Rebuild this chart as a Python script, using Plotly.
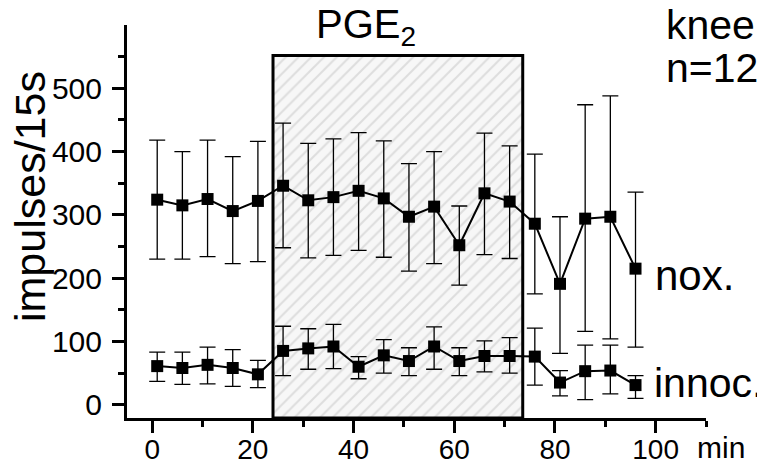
import plotly.graph_objects as go

# time points (min)
t = [1, 6, 11, 16, 21, 26, 31, 36, 41, 46, 51, 56, 61, 66, 71, 76, 81, 86, 91, 96]

# noxious stimulation: mean, upper and lower end of error bar
nox = [324, 315, 325, 306, 322, 346, 323, 328, 338, 326, 297, 313, 252, 334, 321, 286, 191, 294, 297, 215]
nox_hi = [418, 400, 418, 392, 416, 445, 413, 420, 430, 417, 381, 400, 314, 429, 409, 396, 297, 474, 488, 336]
nox_lo = [230, 230, 234, 223, 226, 248, 232, 236, 244, 233, 211, 223, 189, 237, 231, 175, 81, 116, 104, 91]

# innocuous stimulation
innoc = [61, 58, 63, 58, 48, 85, 89, 92, 60, 78, 69, 92, 69, 77, 77, 76, 35, 53, 54, 31]
innoc_hi = [83, 83, 91, 87, 70, 124, 120, 127, 76, 103, 90, 123, 90, 101, 106, 121, 54, 94, 94, 46]
innoc_lo = [37, 32, 33, 29, 27, 46, 56, 57, 41, 50, 46, 56, 46, 52, 50, 31, 14, 8, 17, 10]

# PGE2 application period
pge_start, pge_end = 24, 73.6
pge_top = 552

x_ticks = [0, 20, 40, 60, 80, 100]
y_ticks = [0, 100, 200, 300, 400, 500]

# page has an 8px body margin, so the figure is made 8px smaller and margins shifted
PAD = 8
W, H = 765 - PAD, 465 - PAD
L, R, T, B = 127 - PAD, 59, 25 - PAD, 47
FONT = "Liberation Sans, Arial, sans-serif"
y_range = [-21, 600]
x_range = [-5, 110]


def paper(px, py):
    # page pixel position -> paper coords
    fx, fy = px - PAD, py - PAD
    return (fx - L) / (W - L - R), (H - B - fy) / (H - T - B)


fig = go.Figure()

fig.add_trace(go.Scatter(
    x=[pge_start, pge_start, pge_end, pge_end, pge_start],
    y=[y_range[0], pge_top, pge_top, y_range[0], y_range[0]],
    mode="lines", fill="toself",
    fillcolor="#f6f6f6",
    fillpattern=dict(shape="/", fgcolor="#c4c4c4", bgcolor="#f7f7f7", size=9, solidity=0.22),
    line=dict(color="black", width=3),
    hoverinfo="skip", showlegend=False))


def series(y, hi, lo):
    return go.Scatter(
        x=t, y=y, mode="lines+markers",
        line=dict(color="black", width=2),
        marker=dict(symbol="square", size=12, color="black"),
        error_y=dict(type="data", symmetric=False,
                     array=[h - v for h, v in zip(hi, y)],
                     arrayminus=[v - l for v, l in zip(y, lo)],
                     color="black", thickness=1.3, width=8),
        showlegend=False)


fig.add_trace(series(nox, nox_hi, nox_lo))
fig.add_trace(series(innoc, innoc_hi, innoc_lo))

axis_common = dict(showline=True, linecolor="black", linewidth=3, showgrid=False, zeroline=False,
                   ticks="outside", ticklen=12, tickwidth=3, tickcolor="black", automargin=False)

fig.update_xaxes(range=x_range, tickvals=x_ticks, **axis_common, ticklabelstandoff=-8,
                 tickfont=dict(family=FONT, size=28, color="black"),
                 minor=dict(tickvals=[10, 30, 50, 70, 90, 110], ticks="outside", ticklen=6,
                            tickwidth=3, tickcolor="black"))
fig.update_yaxes(range=y_range, tickvals=y_ticks, **axis_common, ticklabelstandoff=4,
                 tickfont=dict(family=FONT, size=30, color="black"),
                 minor=dict(tickvals=[50, 150, 250, 350, 450, 550], ticks="outside", ticklen=6,
                            tickwidth=3, tickcolor="black"))


def label(text, px, py, size, xanchor="left", yanchor="middle", angle=0, align="left"):
    x, y = paper(px, py)
    fig.add_annotation(text=text, x=x, y=y, xref="paper", yref="paper", showarrow=False,
                       xanchor=xanchor, yanchor=yanchor, textangle=angle, align=align,
                       font=dict(family=FONT, size=size, color="black"))


label("PGE<sub>2</sub>", 366, 27, 40, xanchor="center")
label("knee", 664, 25, 41)
label("n=12", 664, 68, 41)
label("nox.", 653, 275, 42)
label("innoc.", 652, 383, 41)
label("min", 695, 447, 30)
label("impulses/15s", 30, 197, 43, xanchor="center", angle=-90)

fig.update_layout(width=W, height=H, margin=dict(l=L, r=R, t=T, b=B),
                  paper_bgcolor="white", plot_bgcolor="white",
                  font=dict(family=FONT, color="black"))

fig.write_html("out.html")
